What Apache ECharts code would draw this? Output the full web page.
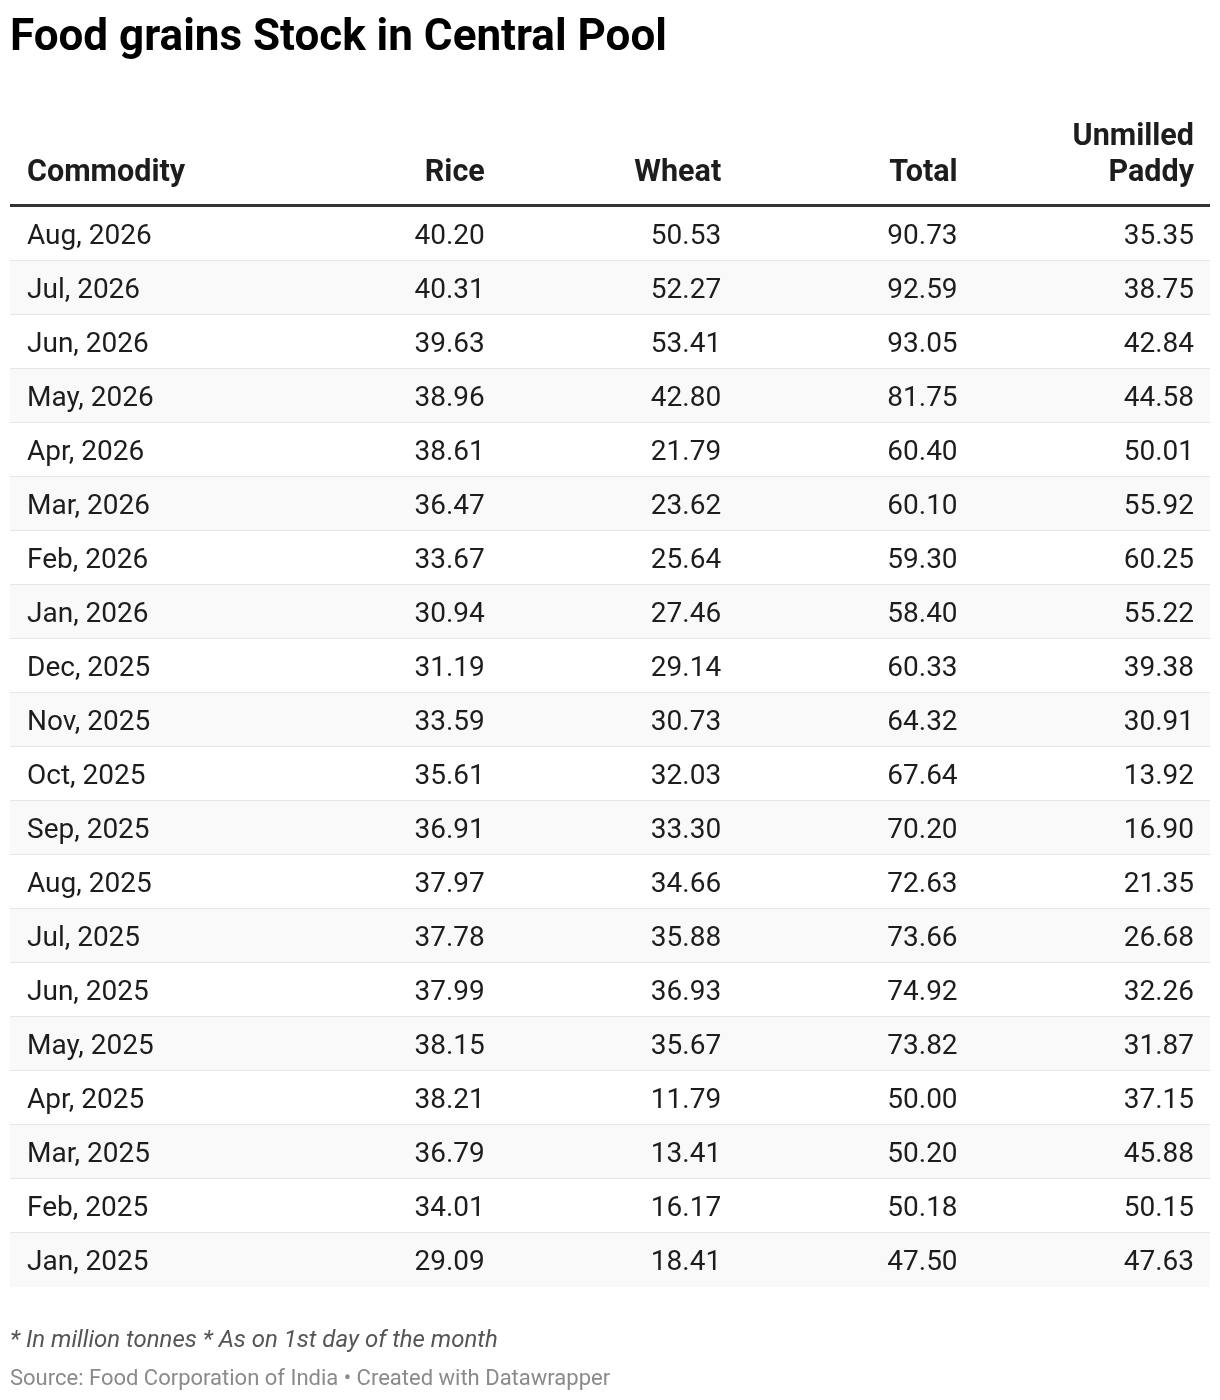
<!DOCTYPE html>
<html>
<head>
<meta charset="utf-8">
<title>Food grains Stock in Central Pool</title>
<script src="https://cdn.jsdelivr.net/npm/echarts@6/dist/echarts.min.js"></script>
<style>
  html, body { margin: 0; padding: 0; background: #fff; }
  #chart { width: 1220px; height: 1400px; }
</style>
</head>
<body>
<div id="chart"></div>
<script>
// table columns
var columns = ['Commodity', 'Rice', 'Wheat', 'Total', 'Unmilled\nPaddy'];

// rows, newest first
var months = ['Aug, 2026', 'Jul, 2026', 'Jun, 2026', 'May, 2026', 'Apr, 2026', 'Mar, 2026',
  'Feb, 2026', 'Jan, 2026', 'Dec, 2025', 'Nov, 2025', 'Oct, 2025', 'Sep, 2025',
  'Aug, 2025', 'Jul, 2025', 'Jun, 2025', 'May, 2025', 'Apr, 2025', 'Mar, 2025',
  'Feb, 2025', 'Jan, 2025'];
var rice = [40.20, 40.31, 39.63, 38.96, 38.61, 36.47, 33.67, 30.94, 31.19, 33.59,
  35.61, 36.91, 37.97, 37.78, 37.99, 38.15, 38.21, 36.79, 34.01, 29.09];
var wheat = [50.53, 52.27, 53.41, 42.80, 21.79, 23.62, 25.64, 27.46, 29.14, 30.73,
  32.03, 33.30, 34.66, 35.88, 36.93, 35.67, 11.79, 13.41, 16.17, 18.41];
var total = [90.73, 92.59, 93.05, 81.75, 60.40, 60.10, 59.30, 58.40, 60.33, 64.32,
  67.64, 70.20, 72.63, 73.66, 74.92, 73.82, 50.00, 50.20, 50.18, 47.50];
var paddy = [35.35, 38.75, 42.84, 44.58, 50.01, 55.92, 60.25, 55.22, 39.38, 30.91,
  13.92, 16.90, 21.35, 26.68, 32.26, 31.87, 37.15, 45.88, 50.15, 47.63];

var FONT = 'Roboto, "Noto Sans", sans-serif';
var TEXT = '#1d1d1d';
var EXTRA_LEFT = 18;   // table starts a bit left of first column text
var PAD_RIGHT = 16;

// cell data: [col, row, text]
var cellData = [];
for (var r = 0; r < months.length; r++) {
  var vals = [months[r], rice[r].toFixed(2), wheat[r].toFixed(2), total[r].toFixed(2), paddy[r].toFixed(2)];
  for (var c = 0; c < vals.length; c++) {
    cellData.push([c, r, vals[c]]);
  }
}
var rowData = months.map(function (m, i) { return [0, i]; });
var headData = columns.map(function (h, i) { return [i, 0, h]; });

function renderRow(params, api) {
  var p = api.coord([0, api.value(1)]);
  var s = api.size([1, 1]);
  var cs = params.coordSys;
  var top = p[1] - s[1] / 2;
  var idx = api.value(1);
  var children = [{
    type: 'rect',
    shape: { x: cs.x - EXTRA_LEFT, y: top, width: cs.width + EXTRA_LEFT, height: s[1] },
    style: { fill: idx % 2 === 1 ? '#f9f9f9' : '#ffffff' }
  }];
  if (idx < months.length - 1) {
    children.push({
      type: 'rect',
      shape: { x: cs.x - EXTRA_LEFT, y: top + s[1] - 1, width: cs.width + EXTRA_LEFT, height: 2 },
      style: { fill: '#e6e6e6' }
    });
  }
  return { type: 'group', children: children };
}

function renderCell(params, api) {
  var col = api.value(0);
  var p = api.coord([col, api.value(1)]);
  var s = api.size([1, 1]);
  var left = col === 0;
  return {
    type: 'text',
    style: {
      x: left ? p[0] - s[0] / 2 - 1 : p[0] + s[0] / 2 - PAD_RIGHT,
      y: p[1] + 3,
      text: cellData[params.dataIndex][2],
      fill: TEXT,
      font: '28px ' + FONT,
      align: left ? 'left' : 'right',
      verticalAlign: 'middle'
    }
  };
}

function renderHead(params, api) {
  var col = api.value(0);
  var p = api.coord([col, 0]);
  var s = api.size([1, 1]);
  var cs = params.coordSys;
  var left = col === 0;
  var label = headData[params.dataIndex][2];
  var lines = label.split('\n').length;
  var children = [{
    type: 'text',
    style: {
      x: left ? p[0] - s[0] / 2 - 1 : p[0] + s[0] / 2 - PAD_RIGHT,
      y: cs.y - 34 - (lines - 1) * 18,
      text: label,
      fill: TEXT,
      font: 'bold 30.5px ' + FONT,
      lineHeight: 36,
      align: left ? 'left' : 'right',
      verticalAlign: 'middle'
    }
  }];
  if (col === 0) {
    children.push({
      type: 'rect',
      shape: { x: cs.x - EXTRA_LEFT, y: cs.y - 3, width: cs.width + EXTRA_LEFT, height: 3 },
      style: { fill: '#333333' }
    });
  }
  return { type: 'group', children: children };
}

var chart = echarts.init(document.getElementById('chart'), null, { renderer: 'canvas' });

var option = {
  backgroundColor: '#ffffff',
  animation: false,
  title: [
    {
      text: 'Food grains Stock in Central Pool',
      left: 10, top: 17, padding: 0,
      textStyle: { fontFamily: FONT, fontSize: 44, fontWeight: 'bold', color: '#000000' }
    },
    {
      text: '* In million tonnes * As on 1st day of the month',
      left: 10, top: 1329, padding: 0,
      textStyle: { fontFamily: FONT, fontSize: 24, fontStyle: 'italic', fontWeight: 'normal', color: '#555555' }
    },
    {
      text: 'Source: Food Corporation of India \u2022 Created with Datawrapper',
      left: 10, top: 1368, padding: 0,
      textStyle: { fontFamily: FONT, fontSize: 22, fontWeight: 'normal', color: '#8a8a8a' }
    }
  ],
  grid: { left: 28, right: 10, top: 207, height: 54 * months.length },
  xAxis: {
    type: 'category',
    data: columns,
    show: false
  },
  yAxis: {
    type: 'category',
    data: months,
    inverse: true,
    show: false
  },
  series: [
    {
      type: 'custom',
      name: 'rows',
      renderItem: renderRow,
      data: rowData,
      encode: { x: 0, y: 1 },
      silent: true
    },
    {
      type: 'custom',
      name: 'header',
      renderItem: renderHead,
      data: headData,
      encode: { x: 0, y: 1 },
      silent: true,
      clip: false
    },
    {
      type: 'custom',
      name: 'cells',
      renderItem: renderCell,
      data: cellData,
      encode: { x: 0, y: 1 },
      silent: true
    }
  ]
};

chart.setOption(option);
</script>
</body>
</html>
